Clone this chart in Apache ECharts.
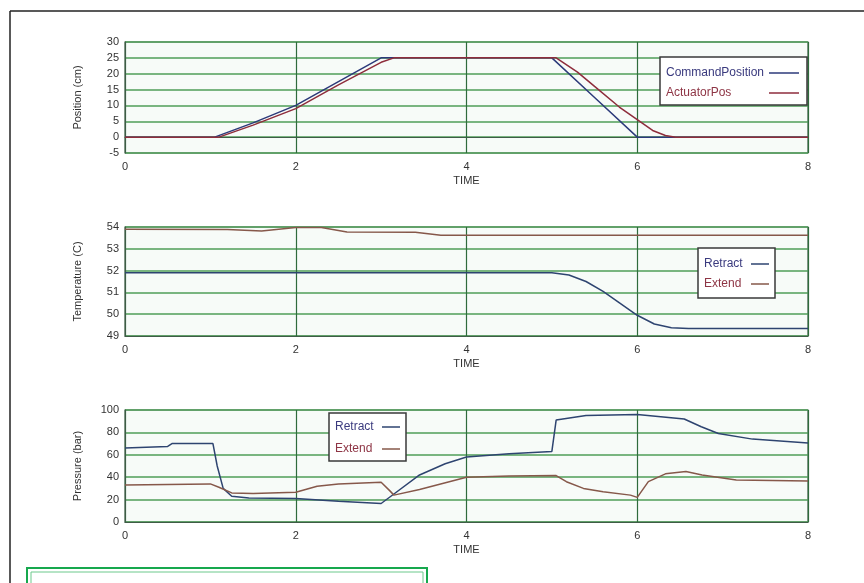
<!DOCTYPE html>
<html><head><meta charset="utf-8">
<script src="https://cdn.jsdelivr.net/npm/echarts@6/dist/echarts.min.js"></script>
<style>html,body{margin:0;padding:0;background:#fff}#c{width:864px;height:583px}</style>
</head><body><div id="c"></div>
<script>
// ---- Data ----
const xTicks = [0, 2, 4, 6, 8];
// Panel 1: Position (cm)
const cmdPosT = [0, 1.05, 1.5, 2.0, 2.5, 3.0, 5.0, 5.5, 6.0, 8];
const cmdPosV = [0, 0, 4.5, 10.0, 17.5, 25, 25, 12.5, 0, 0];
const actPosT = [0, 1.1, 1.5, 2.0, 2.5, 3.0, 3.15, 5.05, 5.3, 5.5, 5.79, 6.0, 6.18, 6.33, 6.45, 8];
const actPosV = [0, 0, 3.8, 9.0, 16.5, 23.6, 25, 25, 20.5, 16, 9.5, 5.5, 2.1, 0.5, 0, 0];
// Panel 2: Temperature (C)
const tRetT = [0, 5.0, 5.2, 5.4, 5.6, 5.8, 6.0, 6.2, 6.4, 6.6, 8];
const tRetV = [51.9, 51.9, 51.8, 51.5, 51.05, 50.5, 49.95, 49.55, 49.38, 49.34, 49.34];
const tExtT = [0, 1.2, 1.6, 2.0, 2.3, 2.6, 3.4, 3.7, 8];
const tExtV = [53.9, 53.88, 53.82, 53.98, 53.98, 53.77, 53.76, 53.62, 53.62];
// Panel 3: Pressure (bar)
const pRetT = [0, 0.5, 0.55, 1.03, 1.08, 1.15, 1.25, 1.45, 2.0, 2.5, 3.0, 3.15, 3.45, 3.75, 4.0, 4.5, 5.0, 5.05, 5.4, 6.0, 6.55, 6.75, 6.95, 7.35, 8];
const pRetV = [66, 67.5, 70, 70, 50, 30, 23, 21.5, 21, 18.5, 16.5, 25, 42, 52, 58, 61, 63, 91, 95, 96, 92, 85, 79, 74, 70.5];
const pExtT = [0, 1.0, 1.1, 1.25, 1.5, 2.0, 2.25, 2.5, 3.0, 3.1, 3.15, 3.45, 4.0, 4.5, 5.05, 5.17, 5.37, 5.6, 5.92, 6.0, 6.13, 6.33, 6.57, 6.76, 7.16, 8];
const pExtV = [33, 34, 31, 26, 25.5, 26.5, 32, 34, 35.5, 28, 24, 29, 40, 41, 41.5, 36, 30, 27, 24, 22, 36, 43, 45, 42, 37.5, 36.5];

const zip = (t, v) => t.map((x, i) => [x, v[i]]);

const BLUE = '#2c3a7a', RED = '#8e2d3c', BROWN = '#86584a', TEAL = '#2e4470';
const FONT = 'Liberation Sans, Arial, sans-serif';
const gridTops = [42, 227, 410], gridHeights = [111, 109, 112];
const yNames = ['Position (cm)', 'Temperature (C)', 'Pressure (bar)'];
const yMin = [-5, 49, 0], yMax = [30, 54, 100], yInt = [5, 1, 20];

const grid = gridTops.map((t, i) => ({left: 125, right: 56, top: t, height: gridHeights[i], show: true,
  backgroundColor: '#f7fbf8', borderColor: '#3e5c46', borderWidth: 1.2}));
const xAxis = [0, 1, 2].map(i => ({type: 'value', gridIndex: i, min: 0, max: 8, interval: 2,
  name: 'TIME', nameLocation: 'middle', nameGap: 22,
  nameTextStyle: {fontFamily: FONT, fontSize: 11, color: '#333'},
  axisLine: {show: true, lineStyle: {color: '#3e5c46'}}, axisTick: {show: false},
  axisLabel: {fontFamily: FONT, fontSize: 11, color: '#333', margin: 8},
  splitLine: {show: true, lineStyle: {color: '#2f6b3c', width: 1.2}}}));
const yAxis = [0, 1, 2].map(i => ({type: 'value', gridIndex: i, min: yMin[i], max: yMax[i], interval: yInt[i],
  name: yNames[i], nameLocation: 'middle', nameGap: 42,
  nameTextStyle: {fontFamily: FONT, fontSize: 11, color: '#333'},
  axisLine: {show: true, lineStyle: {color: '#3e5c46'}}, axisTick: {show: false},
  axisLabel: {fontFamily: FONT, fontSize: 11, color: '#333', margin: 6},
  splitLine: {show: true, lineStyle: {color: '#4f9e58', width: 1.5}}}));

const mk = (name, data, color, idx) => ({type: 'line', name, data, xAxisIndex: idx, yAxisIndex: idx,
  showSymbol: false, symbol: 'none', lineStyle: {color, width: 1.5}, itemStyle: {color}});

const legendBase = {orient: 'vertical', align: 'right', icon: 'rect', itemHeight: 1.5,
  borderColor: '#3a3a3a', borderWidth: 1.5, backgroundColor: '#fff', borderRadius: 0,
  textStyle: {fontFamily: FONT, fontSize: 12}};
const leftText = w => ({formatter: '{a|{name}}', textStyle: {fontFamily: FONT, fontSize: 12,
  rich: {a: {width: w, align: 'left', fontFamily: FONT, fontSize: 12}}}});

const option = {
  animation: false,
  grid, xAxis, yAxis,
  legend: [
    Object.assign({}, legendBase, leftText(98), {left: 660, top: 57, itemWidth: 30, itemGap: 8, padding: [10, 8, 6, 6],
      data: [{name: 'CommandPosition', textStyle: {color: '#3a3a7e'}}, {name: 'ActuatorPos', textStyle: {color: '#8e3545'}}]}),
    Object.assign({}, legendBase, leftText(42), {left: 698, top: 248, itemWidth: 18, itemGap: 8, padding: [10, 6, 8, 6],
      data: [{name: 'Retract', textStyle: {color: '#3a3a7e'}}, {name: 'Extend', textStyle: {color: '#8e3545'}}]}),
    Object.assign({}, legendBase, leftText(42), {left: 329, top: 413, itemWidth: 18, itemGap: 10, padding: [8, 6, 6, 6],
      data: [{name: 'Retract', textStyle: {color: '#3a3a7e'}}, {name: 'Extend', textStyle: {color: '#8e3545'}}]})
  ],
  series: [
    mk('CommandPosition', zip(cmdPosT, cmdPosV), BLUE, 0),
    mk('ActuatorPos', zip(actPosT, actPosV), RED, 0),
    mk('Retract', zip(tRetT, tRetV), TEAL, 1),
    mk('Extend', zip(tExtT, tExtV), BROWN, 1),
    mk('Retract', zip(pRetT, pRetV), TEAL, 2),
    mk('Extend', zip(pExtT, pExtV), BROWN, 2)
  ],
  graphic: [
    {type: 'line', shape: {x1: 10, y1: 11, x2: 864, y2: 11}, style: {stroke: '#222', lineWidth: 1.5}},
    {type: 'line', shape: {x1: 10, y1: 11, x2: 10, y2: 583}, style: {stroke: '#222', lineWidth: 1.5}},
    {type: 'rect', shape: {x: 27, y: 568, width: 400, height: 40}, style: {fill: 'none', stroke: '#17a84e', lineWidth: 2}},
    {type: 'rect', shape: {x: 31, y: 572, width: 392, height: 40}, style: {fill: 'none', stroke: '#6cc98c', lineWidth: 1}}
  ]
};
echarts.init(document.getElementById('c')).setOption(option);
</script></body></html>
